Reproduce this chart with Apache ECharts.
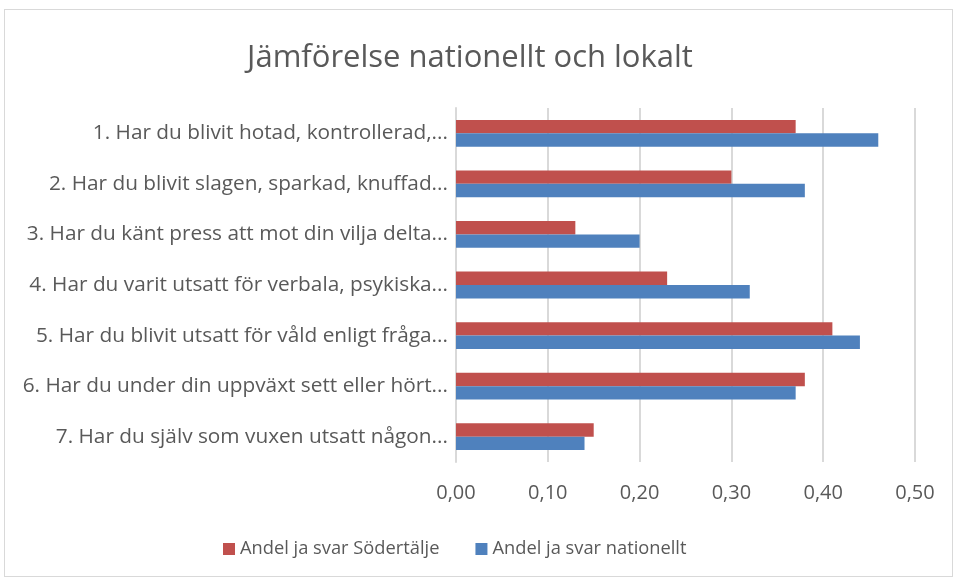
<!DOCTYPE html>
<html>
<head>
<meta charset="utf-8">
<script src="https://cdn.jsdelivr.net/npm/echarts@6/dist/echarts.min.js"></script>
<style>
  html, body { margin: 0; padding: 0; background: #fff; }
  #main { width: 955px; height: 578px; }
  #frame { position: absolute; left: 4px; top: 9px; width: 947px; height: 566px; border: 1px solid #d9d9d9; pointer-events: none; }
</style>
</head>
<body>
<div id="main"></div>
<div id="frame"></div>
<script>
// kategorier (frågor), uppifrån och ned
const categories = [
  '1. Har du blivit hotad, kontrollerad,...',
  '2. Har du blivit slagen, sparkad, knuffad...',
  '3. Har du känt press att mot din vilja delta...',
  '4. Har du varit utsatt för verbala, psykiska...',
  '5. Har du blivit utsatt för våld enligt fråga...',
  '6. Har du under din uppväxt sett eller hört...',
  '7. Har du själv som vuxen utsatt någon...'
];
const lokalt = [0.37, 0.30, 0.13, 0.23, 0.41, 0.38, 0.15];
const nationellt = [0.46, 0.38, 0.20, 0.32, 0.44, 0.37, 0.14];
const xTicks = { min: 0, max: 0.5, interval: 0.1 };

const font = 'Open Sans';
const chart = echarts.init(document.getElementById('main'));
chart.setOption({
  animation: false,
  title: {
    text: 'Jämförelse nationellt och lokalt',
    left: 465, top: 38, textAlign: 'center',
    textStyle: { fontFamily: font, fontSize: 31, fontWeight: 'normal', color: '#595959' }
  },
  legend: {
    bottom: 15, left: 218, itemGap: 36,
    itemWidth: 12, itemHeight: 12, icon: 'rect',
    textStyle: { fontFamily: font, fontSize: 18.3, color: '#595959' }
  },
  grid: { left: 456, right: 40, top: 108, bottom: 116, containLabel: false },
  xAxis: {
    type: 'value', min: xTicks.min, max: xTicks.max, interval: xTicks.interval,
    axisLabel: {
      fontFamily: font, fontSize: 20, color: '#595959', margin: 21,
      formatter: v => v.toFixed(2).replace('.', ',')
    },
    splitLine: { lineStyle: { color: '#d9d9d9', width: 2 } },
    axisLine: { show: false }, axisTick: { show: false }
  },
  yAxis: {
    type: 'category', data: categories, inverse: true,
    axisLabel: { fontFamily: font, fontSize: 20.8, color: '#595959', margin: 8, padding: [6, 0, 0, 0] },
    axisLine: { show: true, lineStyle: { color: '#d9d9d9', width: 2 } },
    axisTick: { show: false }
  },
  series: [
    { name: 'Andel ja svar Södertälje', type: 'bar', data: lokalt,
      itemStyle: { color: '#C0504D' }, barGap: '0%', barCategoryGap: '47%' },
    { name: 'Andel ja svar nationellt', type: 'bar', data: nationellt,
      itemStyle: { color: '#4F81BD' }, barGap: '0%', barCategoryGap: '47%' }
  ]
});
</script>
</body>
</html>
